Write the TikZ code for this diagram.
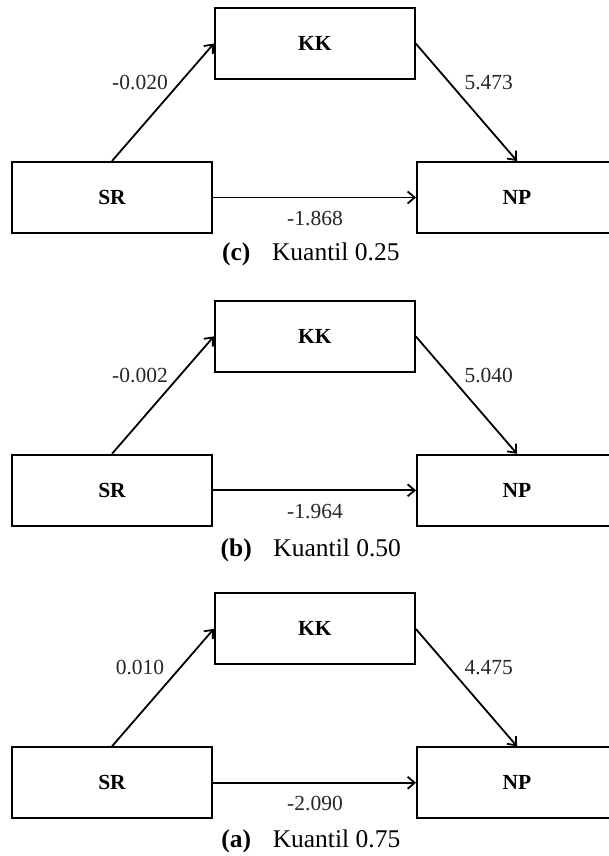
\documentclass[tikz,border=0pt]{standalone}
\usepackage{fontspec}
\setmainfont{Liberation Serif}
\usetikzlibrary{arrows.meta}
\newcommand{\mypanel}[8]{%
  \node[box] (kk#2) at (314.8,{43.6+#1}) {KK};
  \node[box] (sr#2) at (112,{197.5+#1}) {SR};
  \node[box] (np#2) at (517,{197.5+#1}) {NP};
  \draw[conn] (sr#2.north) -- (kk#2.west);
  \draw[conn] (kk#2.east) -- (np#2.north);
  \draw[conn] (sr#2.east) -- (np#2.west);
  \node[coef] (la#2) at (140,{82.4+#1}) {#3};
  \node[coef] (lb#2) at (488.7,{82.4+#1}) {#4};
  \node[coef] (lc#2) at (315,{218.3+#1}) {#5};
  \node[captext, anchor=base] (cap#2) at (310.8,#8) {\textbf{(#6)}\hspace{0.85em}Kuantil #7};
}
\begin{document}
\begin{tikzpicture}[x=1pt,y=-1pt,
  box/.style={draw, line width=2pt, minimum width=200pt, minimum height=71pt, inner sep=0pt,
    font=\fontsize{21.5}{24}\selectfont\bfseries},
  conn/.style={line width=1.8pt, -{Straight Barb[length=7pt,width=12pt,line width=1.8pt]}},
  coef/.style={font=\fontsize{21.5}{24}\selectfont, inner sep=0pt, text=black!85},
  captext/.style={font=\fontsize{25.5}{28}\selectfont, inner sep=0pt}]
\clip (0,0) rectangle (609,856);
\fill[white] (0,0) rectangle (609,856);
\mypanel{0}{1}{-0.020}{5.473}{-1.868}{c}{0.25}{260}
\mypanel{292.8}{2}{-0.002}{5.040}{-1.964}{b}{0.50}{556.7}
\mypanel{585.3}{3}{0.010}{4.475}{-2.090}{a}{0.75}{847.3}
\end{tikzpicture}
\end{document}
